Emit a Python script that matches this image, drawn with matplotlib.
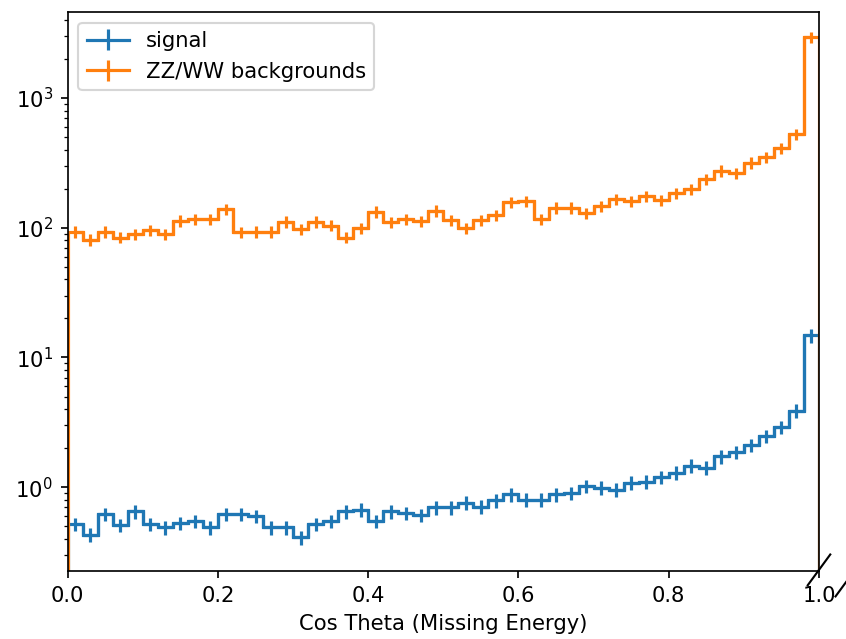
import matplotlib.pyplot as plt
import numpy as np

# 50 bins in cos(theta) of the missing energy
edges = np.linspace(0.0, 1.0, 51)
centers = 0.5 * (edges[:-1] + edges[1:])

signal = [0.52, 0.43, 0.62, 0.51, 0.65, 0.52, 0.49, 0.53, 0.55, 0.49,
          0.62, 0.62, 0.60, 0.49, 0.49, 0.41, 0.52, 0.55, 0.65, 0.67,
          0.55, 0.65, 0.63, 0.61, 0.70, 0.70, 0.76, 0.71, 0.79, 0.88,
          0.80, 0.80, 0.88, 0.90, 1.02, 0.99, 0.96, 1.08, 1.10, 1.20,
          1.29, 1.47, 1.41, 1.73, 1.86, 2.11, 2.47, 2.90, 3.90, 14.8]

background = [93, 81, 93, 84, 89, 96, 89, 113, 116, 116,
              139, 92, 93, 93, 111, 98, 111, 104, 84, 99,
              133, 110, 116, 112, 135, 114, 99, 114, 125, 158,
              161, 117, 143, 143, 129, 147, 166, 161, 175, 163,
              184, 198, 236, 275, 262, 317, 349, 409, 525, 2950]

sig_rel_err = 0.12
bkg_rel_err = 0.10

fig = plt.figure(figsize=(5.572, 4.204), dpi=152)
ax = fig.add_axes([0.080, 0.106, 0.887, 0.875])

for vals, rel, label, color in [(signal, sig_rel_err, 'signal', 'C0'),
                                (background, bkg_rel_err, 'ZZ/WW backgrounds', 'C1')]:
    vals = np.asarray(vals)
    ax.hist(centers, bins=edges, weights=vals, histtype='step', color=color, linewidth=1.5)
    ax.errorbar(centers, vals, yerr=rel * vals, drawstyle='steps-mid',
                color=color, label=label)

ax.set_yscale('log')
ax.set_xlim(0, 1)
ax.set_ylim(0.225, 4590)
ax.set_xlabel('Cos Theta (Missing Energy)')
ax.legend(loc='upper left')

# broken-axis marks at the lower right corner
d = 0.015
kw = dict(transform=ax.transAxes, color='k', clip_on=False, linewidth=1)
ax.plot((1 - d, 1 + d), (-0.025, 0.03), **kw)
ax.plot((1 + 0.022, 1 + 0.022 + 2 * d), (-0.045, 0.01), **kw)

fig.savefig('out.png')
